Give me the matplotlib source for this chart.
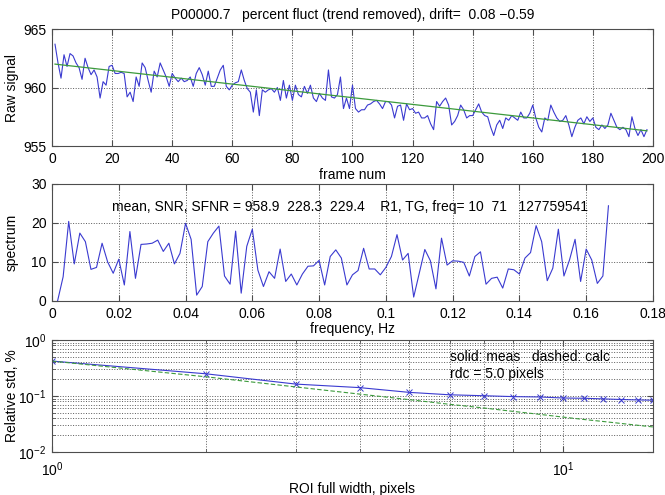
import numpy as np
import matplotlib
matplotlib.use("Agg")
import matplotlib.pyplot as plt
from matplotlib.ticker import FixedLocator, FuncFormatter, LogLocator, NullFormatter

plt.rcParams['font.family'] = ['Liberation Sans', 'DejaVu Sans']
plt.rcParams['font.size'] = 10

# ---------------- data ----------------
raw_signal = [
    963.7, 962.1, 960.8, 962.8, 961.8, 962.9, 962.7, 962.1, 961.7, 960.7,
    962.5, 961.7, 961.1, 961.5, 960.9, 959.1, 960.5, 960.2, 961.8, 961.9,
    961.2, 961.2, 961.3, 961.2, 959.2, 959.6, 958.8, 960.9, 960.1, 962.1,
    961.7, 960.6, 959.6, 961.4, 960.9, 962.1, 961.5, 960.9, 960.1, 961.2,
    960.8, 960.5, 960.8, 960.5, 960.6, 960.9, 960.1, 961.2, 961.7, 961.1,
    960.2, 961.4, 960.1, 960.1, 960.8, 961.5, 961.9, 960.1, 959.8, 960.2,
    960.4, 960.5, 961.5, 960.6, 959.9, 959.6, 957.9, 959.8, 957.6, 959.8,
    959.6, 959.8, 959.9, 959.6, 960.0, 958.9, 960.6, 959.1, 960.2, 958.9,
    960.2, 959.4, 959.2, 960.1, 959.5, 960.2, 959.1, 958.8, 959.5, 959.1,
    958.9, 961.5, 959.2, 959.1, 959.4, 960.9, 958.2, 959.1, 958.2, 960.2,
    958.2, 957.9, 958.1, 958.1, 958.5, 958.6, 958.8, 958.9, 958.6, 958.2,
    958.8, 958.8, 958.5, 957.4, 958.4, 958.5, 957.2, 958.6, 958.1, 958.2,
    957.8, 957.9, 957.4, 957.4, 957.6, 956.9, 956.4, 958.8, 958.4, 958.8,
    959.1, 958.5, 956.8, 957.1, 957.6, 958.5, 958.1, 957.4, 957.6, 957.6,
    958.1, 958.6, 957.9, 957.6, 957.5, 956.6, 955.9, 956.8, 957.2, 956.5,
    957.4, 957.2, 957.6, 957.4, 957.2, 957.9, 957.4, 957.4, 957.8, 958.5,
    957.4, 956.6, 956.2, 957.4, 957.2, 958.5, 957.9, 957.4, 957.1, 957.2,
    957.6, 956.8, 955.8, 956.6, 957.2, 957.4, 956.9, 957.5, 957.1, 957.4,
    956.6, 956.4, 956.8, 956.5, 956.8, 957.8, 957.2, 956.6, 956.4, 956.6,
    956.4, 955.8, 957.5, 956.5, 955.9, 956.4, 955.8, 956.4,
]
trend_frames = [1, 198]
trend_values = [962.0, 956.3]

spectrum = [
    0.0, 6.2, 20.4, 9.5, 17.4, 15.2, 8.1, 8.6, 14.8, 10.0,
    7.1, 10.7, 4.1, 17.8, 5.8, 14.5, 14.6, 14.8, 15.6, 12.7,
    14.8, 9.5, 12.2, 19.9, 15.8, 1.5, 3.7, 15.2, 17.4, 19.2,
    6.4, 4.3, 17.9, 2.0, 14.0, 18.4, 7.9, 3.7, 7.5, 5.8,
    13.3, 5.0, 6.9, 4.1, 6.9, 8.9, 9.0, 10.4, 4.1, 11.4,
    13.1, 11.0, 4.1, 6.7, 7.8, 13.5, 8.2, 8.2, 6.7, 8.6,
    11.4, 17.0, 10.5, 12.2, 1.0, 7.1, 13.2, 10.3, 3.1, 16.1,
    9.2, 10.3, 10.2, 9.9, 6.4, 11.4, 12.6, 4.3, 5.8, 6.1,
    3.3, 8.2, 8.0, 6.9, 11.0, 12.4, 19.3, 15.2, 5.2, 8.4,
    18.4, 6.4, 10.5, 15.8, 5.0, 13.3, 10.5, 4.5, 6.4, 24.4,
]
freq_step = 1.0 / 600.0

roi_width = [1, 2, 3, 4, 5, 6, 7, 8, 9, 10, 11, 12, 13, 14, 15]
rel_std_meas = [0.42, 0.249, 0.163, 0.141, 0.116, 0.105, 0.101, 0.0974,
                0.096, 0.092, 0.091, 0.0887, 0.0865, 0.085, 0.084]
rel_std_calc = [0.42, 0.22, 0.145, 0.108, 0.086, 0.071, 0.061, 0.053,
                0.047, 0.042, 0.038, 0.035, 0.0323, 0.030, 0.028]

title_text = "P00000.7   percent fluct (trend removed), drift=  0.08 \u22120.59"
spec_text = "mean, SNR, SFNR = 958.9  228.3  229.4    R1, TG, freq= 10  71   127759541"

# ---------------- style ----------------
BLUE = '#3a3ad0'
GREEN = '#3c9a3c'
GRIDKW = dict(color='0.35', linestyle=':', linewidth=0.7)


def style_axes(ax):
    for s in ax.spines.values():
        s.set_color('0.3')
        s.set_linewidth(0.8)
    ax.tick_params(which='both', direction='in', top=True, right=True,
                   color='0.3', labelsize=10, pad=4)
    ax.tick_params(which='major', length=4)
    ax.tick_params(which='minor', length=2)


fig = plt.figure(figsize=(6.65, 4.95), dpi=100)
L, W = 0.0782, 0.9037
ax1 = fig.add_axes([L, 0.705, W, 0.2364])
ax2 = fig.add_axes([L, 0.392, W, 0.2364])
ax3 = fig.add_axes([L, 0.0869, W, 0.2263])

g = lambda v, p: "%g" % v

# ---- top: raw signal ----
frames = np.arange(1, len(raw_signal) + 1)
ax1.plot(frames, raw_signal, color=BLUE, linewidth=0.8)
ax1.plot(trend_frames, trend_values, color=GREEN, linewidth=0.9)
ax1.set_xlim(0, 200)
ax1.set_ylim(955, 965)
ax1.xaxis.set_major_locator(FixedLocator(np.arange(0, 201, 20)))
ax1.yaxis.set_major_locator(FixedLocator([955, 960, 965]))
ax1.grid(True, **GRIDKW)
ax1.set_xlabel("frame num", labelpad=2)
ax1.set_ylabel("Raw signal")
ax1.set_title(title_text, fontsize=10, pad=7)
style_axes(ax1)

# ---- middle: spectrum ----
freqs = np.arange(1, len(spectrum) + 1) * freq_step
ax2.plot(freqs, spectrum, color=BLUE, linewidth=0.8)
ax2.set_xlim(0, 0.18)
ax2.set_ylim(0, 30)
ax2.xaxis.set_major_locator(FixedLocator(np.round(np.arange(0, 0.181, 0.02), 2)))
ax2.xaxis.set_major_formatter(FuncFormatter(g))
ax2.yaxis.set_major_locator(FixedLocator([0, 10, 20, 30]))
ax2.grid(True, **GRIDKW)
ax2.text(0.018, 24, spec_text, fontsize=10, ha='left', va='center')
ax2.set_xlabel("frequency, Hz", labelpad=1)
ax2.set_ylabel("spectrum")
style_axes(ax2)

# ---- bottom: relative std ----
ax3.loglog(roi_width, rel_std_meas, color=BLUE, linewidth=0.8, marker='x',
           markersize=4, markeredgewidth=0.7)
ax3.loglog(roi_width, rel_std_calc, color=GREEN, linewidth=0.8, linestyle='--',
           dashes=(4, 2))
ax3.set_xlim(1, 15)
ax3.set_ylim(0.01, 1)
ax3.xaxis.set_major_locator(LogLocator(base=10, numticks=10))
ax3.xaxis.set_minor_locator(LogLocator(base=10, subs=np.arange(2, 10), numticks=10))
ax3.xaxis.set_minor_formatter(NullFormatter())
ax3.yaxis.set_major_locator(LogLocator(base=10, numticks=10))
ax3.yaxis.set_minor_locator(LogLocator(base=10, subs=np.arange(2, 10), numticks=10))
ax3.yaxis.set_minor_formatter(NullFormatter())
ax3.grid(True, which='both', **GRIDKW)
ax3.text(6.0, 0.5, "solid: meas   dashed: calc", fontsize=10, ha='left', va='center')
ax3.text(6.0, 0.245, "rdc = 5.0 pixels", fontsize=10, ha='left', va='center')
ax3.set_xlabel("ROI full width, pixels", labelpad=2)
ax3.set_ylabel("Relative std, %")
style_axes(ax3)
ax3.tick_params(axis='x', which='both', pad=6)

for ax in (ax1, ax2, ax3):
    ax.yaxis.set_label_coords(-0.055, 0.5)

fig.savefig("out.png", dpi=100)
